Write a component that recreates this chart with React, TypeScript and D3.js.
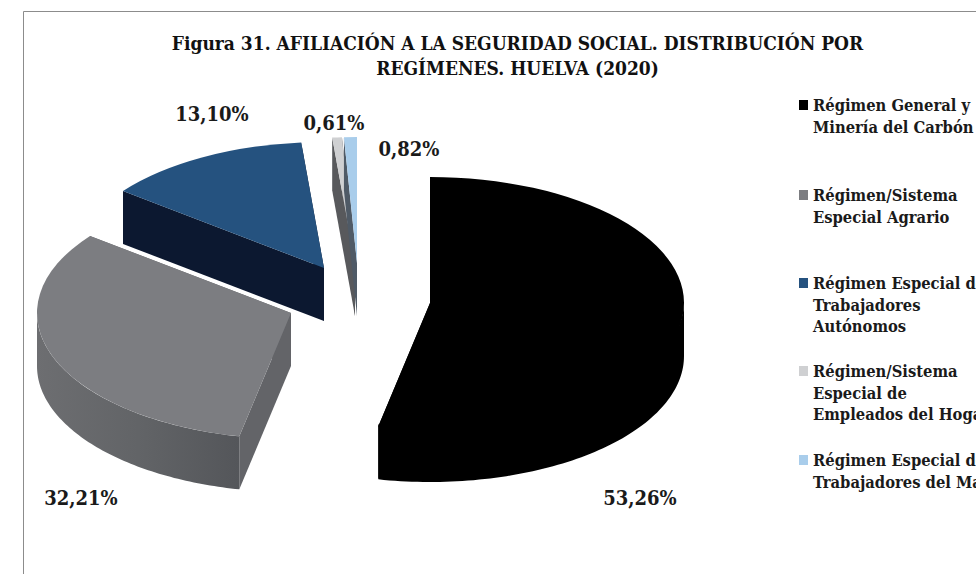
import React from 'react';
import * as d3 from 'd3';

// Data
const categories = [
  ['Régimen General y', 'Minería del Carbón'],
  ['Régimen/Sistema', 'Especial Agrario'],
  ['Régimen Especial de', 'Trabajadores', 'Autónomos'],
  ['Régimen/Sistema', 'Especial de', 'Empleados del Hogar'],
  ['Régimen Especial de', 'Trabajadores del Mar'],
];
const values = [53.26, 32.21, 13.1, 0.61, 0.82];
const titleLines = [
  'Figura 31. AFILIACIÓN A LA SEGURIDAD SOCIAL. DISTRIBUCIÓN POR',
  'REGÍMENES. HUELVA (2020)',
];

// Colours per slice: top face, cut faces
const topColors = ['#000000', '#7c7d81', '#25527f', '#cfd0d2', '#a9cdeb'];
const faceColors = ['#000000', '#636468', '#0c1830', '#58595c', '#4f5a66'];

// Exploded position of each slice apex and label placement
const apexX = [430, 291, 324, 355, 357];
const apexY = [303, 313, 268, 263, 263];
const labelX = [640, 81, 212, 334, 409];
const labelY = [505, 505, 121, 130, 156];
const legendY = [111, 201, 289, 377, 466];

const width = 976;
const height = 574;
const rx = 254;
const ry = 126;
const depth = 53;
const serif = '"DejaVu Serif Condensed", "DejaVu Serif", serif';

const pie = d3.pie<number>().sort(null).value((d) => d);
const arcs = pie(values);
const topArc = d3.arc<d3.PieArcDatum<number>>().innerRadius(0).outerRadius(rx);
const pct = d3.formatLocale({ decimal: ',', thousands: '.', grouping: [3], currency: ['', ''] }).format('.2f');

const onRim = (a: number, dy = 0): [number, number] => [rx * Math.sin(a), -ry * Math.cos(a) + dy];
const line = d3.line();

// Outer wall: only the part of the rim on the front half of the ellipse shows.
// overlap tucks the upper edge under the top face so no seam shows on black
const wallPath = (a0: number, a1: number, overlap = 0) => {
  const from = Math.max(a0, Math.PI / 2);
  const to = Math.min(a1, (3 * Math.PI) / 2);
  if (to <= from) return null;
  const angle = d3.scaleLinear().domain([0, 80]).range([from, to]);
  const upper = d3.range(81).map((i) => onRim(angle(i), -overlap));
  const lower = d3.range(81).map((i) => onRim(angle(80 - i), depth));
  return line([...upper, ...lower]) + 'Z';
};

// Flat cut face going from the apex out to the rim at angle a
const facePath = (a: number) => {
  const [x, y] = onRim(a);
  return line([[0, 0], [x, y], [x, y + depth], [0, depth]]) + 'Z';
};

// back to front, so the larger slices lie over the thin ones
const drawOrder = [2, 3, 4, 1, 0];

export default function App() {
  return (
    <svg width={width} height={height} style={{ position: 'absolute', left: 0, top: 0 }} fontFamily={serif}>
      <defs>
        <linearGradient id="wall-grey" x1="0" x2="1" y1="0" y2="0">
          <stop offset="0" stopColor="#6d6e71" />
          <stop offset="0.5" stopColor="#626467" />
          <stop offset="1" stopColor="#54565a" />
        </linearGradient>
      </defs>
      <rect width={width} height={height} fill="#ffffff" />
      <path d="M23.5,574V11.5H976" fill="none" stroke="#8c8c8c" strokeWidth={1} />

      {titleLines.map((t, i) => (
        <text key={t} x={517.5} y={50 + i * 25} textAnchor="middle" fontSize={19} fontWeight={700} fill="#111">
          {t}
        </text>
      ))}

      {drawOrder.map((i) => {
        const arc = arcs[i];
        const wall = wallPath(arc.startAngle, arc.endAngle, i === 0 ? 2 : 0);
        return (
          <g key={i} transform={`translate(${apexX[i]},${apexY[i]})`}>
            <path d={facePath(arc.endAngle)} fill={faceColors[i]} />
            <path d={facePath(arc.startAngle)} fill={faceColors[i]} />
            {wall && <path d={wall} fill={i === 1 ? 'url(#wall-grey)' : faceColors[i]} />}
            <path d={topArc(arc) as string} transform={`scale(1,${ry / rx})`} fill={topColors[i]} />
          </g>
        );
      })}

      {values.map((v, i) => (
        <text key={i} x={labelX[i]} y={labelY[i]} textAnchor="middle" fontSize={20} fontWeight={700} fill="#1a1a1a">
          {pct(v)}%
        </text>
      ))}

      {categories.map((lines, i) => (
        <g key={i}>
          <rect x={799} y={legendY[i] - 11} width={9} height={10} fill={topColors[i]} />
          {lines.map((t, j) => (
            <text key={j} x={813} y={legendY[i] + j * 21.6} fontSize={16.4} fontWeight={700} fill="#1a1a1a">
              {t}
            </text>
          ))}
        </g>
      ))}
    </svg>
  );
}
